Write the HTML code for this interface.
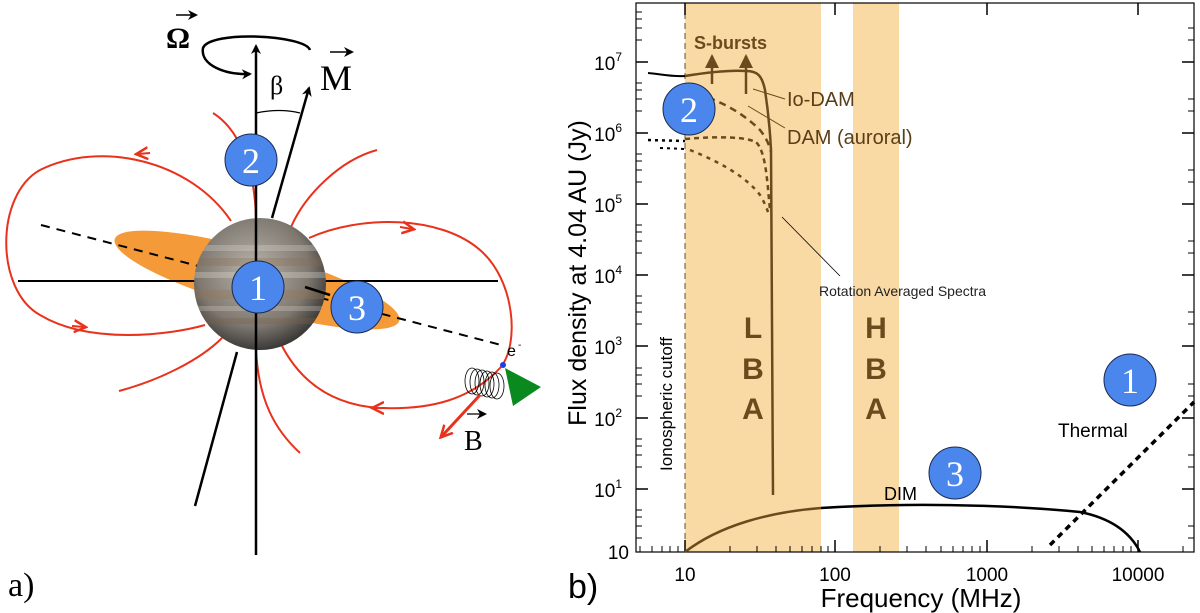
<!DOCTYPE html>
<html><head><meta charset="utf-8"><style>
html,body{margin:0;padding:0;background:#fff;}
svg{display:block;}
</style></head><body>
<svg width="1200" height="613" viewBox="0 0 1200 613" xmlns="http://www.w3.org/2000/svg">
<defs>
<radialGradient id="jg" cx="45%" cy="40%" r="60%">
<stop offset="0" stop-color="#b9b4ac"/><stop offset="0.7" stop-color="#7e7870"/><stop offset="1" stop-color="#3c3a38"/>
</radialGradient>
<clipPath id="jc"><circle cx="260" cy="284" r="66"/></clipPath>
<marker id="ab" markerWidth="10" markerHeight="10" refX="8" refY="5" orient="auto" markerUnits="userSpaceOnUse"><path d="M0,0 L10,5 L0,10 L3,5z" fill="#000"/></marker>
<marker id="ar" markerWidth="14" markerHeight="14" refX="10" refY="7" orient="auto" markerUnits="userSpaceOnUse"><path d="M0,1 L12,7 L0,13" fill="none" stroke="#e8321c" stroke-width="2.5"/></marker>
<marker id="abr" markerWidth="14" markerHeight="14" refX="12" refY="7" orient="auto" markerUnits="userSpaceOnUse"><path d="M0,0 L14,7 L0,14z" fill="#6b4a1e"/></marker>
</defs>

<!-- ===== Panel a ===== -->
<ellipse cx="257" cy="280" rx="148" ry="29" transform="rotate(16 257 280)" fill="#f59a38"/>
<line x1="18" y1="281" x2="498" y2="281" stroke="#000" stroke-width="2"/>
<line x1="41" y1="225" x2="505" y2="346" stroke="#000" stroke-width="2" stroke-dasharray="9,7"/>
<g fill="none" stroke="#e8321c" stroke-width="2">
<path d="M231,221 C190,160 100,140 40,170 C-5,195 -5,290 40,315 C90,345 170,335 205,325"/>
<path d="M309,238 C360,215 440,215 480,250 C515,280 520,345 500,368 C470,400 430,410 380,408 C330,405 300,380 282,346"/>
<path d="M213,113 C240,130 255,170 256,219"/>
<path d="M377,150 C340,160 305,195 291,227"/>
<path d="M119,391 C160,380 200,360 222,338"/>
<path d="M256,348 C258,400 275,430 300,453"/>
</g>
<path d="M150,153 L138,154" stroke="#e8321c" stroke-width="2" marker-end="url(#ar)"/>
<path d="M72,326 L84,327" stroke="#e8321c" stroke-width="2" marker-end="url(#ar)"/>
<path d="M400,227 L412,229" stroke="#e8321c" stroke-width="2" marker-end="url(#ar)"/>
<path d="M386,408 L374,408" stroke="#e8321c" stroke-width="2" marker-end="url(#ar)"/>
<circle cx="260" cy="284" r="66" fill="url(#jg)"/>
<g clip-path="url(#jc)" opacity="0.3">
<rect x="190" y="245" width="140" height="6" fill="#ddd8cf"/>
<rect x="190" y="258" width="140" height="8" fill="#8a6a4c"/>
<rect x="190" y="272" width="140" height="6" fill="#e6e0d6"/>
<rect x="190" y="290" width="140" height="9" fill="#9a7352"/>
<rect x="190" y="306" width="140" height="5" fill="#d8d2c8"/>
<rect x="190" y="318" width="140" height="6" fill="#7a6048"/>
</g>
<line x1="256" y1="555" x2="256" y2="46" stroke="#000" stroke-width="2.5" marker-end="url(#ab)"/>
<line x1="195" y1="506" x2="237" y2="352" stroke="#000" stroke-width="2.5"/>
<line x1="272" y1="218" x2="309" y2="88" stroke="#000" stroke-width="2.5" marker-end="url(#ab)"/>
<line x1="305" y1="287" x2="330" y2="295" stroke="#000" stroke-width="2.5"/>
<path d="M310,50 C305,35 210,30 203,48 C200,65 225,75 250,74" fill="none" stroke="#000" stroke-width="2.5" marker-end="url(#ab)"/>
<path d="M256,113 Q280,108 300,113" fill="none" stroke="#000" stroke-width="1.2"/>
<text x="166" y="48" font-family="Liberation Serif, serif" font-size="30" font-weight="bold">Ω</text>
<path d="M176,15 L196,15" stroke="#000" stroke-width="1.5" marker-end="url(#ab)"/>
<text x="270" y="94" font-family="Liberation Serif, serif" font-size="26">β</text>
<text x="320" y="90" font-family="Liberation Serif, serif" font-size="36">M</text>
<path d="M330,52 L352,52" stroke="#000" stroke-width="1.5" marker-end="url(#ab)"/>
<g font-family="Liberation Serif, serif" font-size="36" fill="#fff" text-anchor="middle">
<circle cx="251" cy="160" r="26" fill="#4a86ec" stroke="#1a2a50" stroke-width="1"/><text x="251" y="173">2</text>
<circle cx="258" cy="287" r="26" fill="#4a86ec" stroke="#1a2a50" stroke-width="1"/><text x="258" y="300">1</text>
<circle cx="357" cy="307" r="26" fill="#4a86ec" stroke="#1a2a50" stroke-width="1"/><text x="357" y="320">3</text>
</g>
<g fill="none" stroke="#000" stroke-width="0.8">
<ellipse cx="472" cy="381" rx="7" ry="13"/><ellipse cx="477" cy="382" rx="7" ry="13"/><ellipse cx="482" cy="383" rx="7" ry="13"/><ellipse cx="487" cy="384" rx="7" ry="13"/><ellipse cx="492" cy="385" rx="7" ry="13"/><ellipse cx="497" cy="386" rx="7" ry="13"/>
</g>
<polygon points="505,368 541,387 513,406" fill="#0a8a1e"/>
<circle cx="503" cy="365" r="3" fill="#1744e0"/>
<text x="507" y="356" font-family="Liberation Sans, sans-serif" font-size="16">e</text>
<text x="518" y="348" font-family="Liberation Sans, sans-serif" font-size="10">-</text>
<line x1="480" y1="395" x2="442" y2="436" stroke="#e8321c" stroke-width="3" marker-end="url(#ar)"/>
<text x="464" y="450" font-family="Liberation Serif, serif" font-size="28">B</text>
<path d="M467,414 L485,414" stroke="#000" stroke-width="1.3" marker-end="url(#ab)"/>
<text x="8" y="596" font-family="Liberation Serif, serif" font-size="34">a)</text>

<!-- ===== Panel b ===== -->
<rect x="685" y="3" width="136" height="549" fill="#f9d9a4"/>
<rect x="853" y="3" width="46" height="549" fill="#f9d9a4"/>
<line x1="685" y1="3" x2="685" y2="552" stroke="#6b4a1e" stroke-width="1" stroke-dasharray="6,4"/>
<rect x="636" y="3" width="558" height="549" fill="none" stroke="#000" stroke-width="1.2"/>
<g stroke="#000" stroke-width="1.5">
<path d="M636,62h12M636,133h12M636,204h12M636,275h12M636,346h12M636,418h12M636,489h12"/>
<path d="M1194,62h-12M1194,133h-12M1194,204h-12M1194,275h-12M1194,346h-12M1194,418h-12M1194,489h-12"/>
<path d="M685,552v-12M835,552v-12M987,552v-12M1138,552v-12M685,3v12M835,3v12M987,3v12M1138,3v12"/>
</g>
<g stroke="#000" stroke-width="1">
<path d="M636,40h6M636,28h6M636,19h6M636,12h6M636,111h6M636,99h6M636,90h6M636,83h6M636,182h6M636,170h6M636,161h6M636,154h6M636,253h6M636,241h6M636,232h6M636,225h6M636,324h6M636,312h6M636,303h6M636,296h6M636,396h6M636,384h6M636,375h6M636,368h6M636,467h6M636,455h6M636,446h6M636,439h6M636,538h6M636,526h6M636,517h6M636,510h6"/>
<path d="M1194,40h-6M1194,28h-6M1194,111h-6M1194,99h-6M1194,182h-6M1194,170h-6M1194,253h-6M1194,241h-6M1194,324h-6M1194,312h-6M1194,396h-6M1194,384h-6M1194,467h-6M1194,455h-6M1194,538h-6M1194,526h-6"/>
<path d="M640,552v-6M652,552v-6M662,552v-6M670,552v-6M678,552v-6M730,552v-6M757,552v-6M776,552v-6M790,552v-6M802,552v-6M812,552v-6M821,552v-6M828,552v-6M880,552v-6M907,552v-6M926,552v-6M941,552v-6M953,552v-6M963,552v-6M972,552v-6M980,552v-6M1032,552v-6M1059,552v-6M1078,552v-6M1092,552v-6M1104,552v-6M1114,552v-6M1123,552v-6M1131,552v-6M1183,552v-6"/>
</g>
<g font-family="Liberation Sans, sans-serif" font-size="19" text-anchor="end">
<text x="622" y="70">10<tspan font-size="12" dy="-9">7</tspan></text>
<text x="622" y="141">10<tspan font-size="12" dy="-9">6</tspan></text>
<text x="622" y="212">10<tspan font-size="12" dy="-9">5</tspan></text>
<text x="622" y="283">10<tspan font-size="12" dy="-9">4</tspan></text>
<text x="622" y="354">10<tspan font-size="12" dy="-9">3</tspan></text>
<text x="622" y="426">10<tspan font-size="12" dy="-9">2</tspan></text>
<text x="622" y="497">10<tspan font-size="12" dy="-9">1</tspan></text>
<text x="629" y="559">10</text>
</g>
<g font-family="Liberation Sans, sans-serif" font-size="19" text-anchor="middle">
<text x="685" y="581">10</text><text x="835" y="581">100</text><text x="987" y="581">1000</text><text x="1138" y="581">10000</text>
</g>
<text x="921" y="607" font-family="Liberation Sans, sans-serif" font-size="26" text-anchor="middle">Frequency (MHz)</text>
<text transform="translate(586,273) rotate(-90)" font-family="Liberation Sans, sans-serif" font-size="25" text-anchor="middle">Flux density at 4.04 AU (Jy)</text>
<text x="568" y="598" font-family="Liberation Sans, sans-serif" font-size="34">b)</text>
<text transform="translate(672,404) rotate(-90)" font-family="Liberation Sans, sans-serif" font-size="17" text-anchor="middle">Ionospheric cutoff</text>
<path d="M648,73 C660,74 672,77 685,76" fill="none" stroke="#000" stroke-width="2"/>
<path d="M685,76 C710,72 730,70 746,71 C758,71 762,76 765,90 C768,110 770,130 771,150 L773,495" fill="none" stroke="#6b4a1e" stroke-width="2.5"/>
<path d="M685,92 C710,95 740,110 760,130 C768,140 770,148 771,152" fill="none" stroke="#6b4a1e" stroke-width="2.5" stroke-dasharray="7,5"/>
<path d="M685,139 C720,136 745,137 756,142 C766,152 767,180 770,210" fill="none" stroke="#6b4a1e" stroke-width="2.5" stroke-dasharray="5,4"/>
<path d="M690,150 C715,160 745,175 760,195 C766,205 768,212 769,215" fill="none" stroke="#6b4a1e" stroke-width="2.5" stroke-dasharray="4,5"/>
<path d="M648,140 L685,141" fill="none" stroke="#000" stroke-width="2.5" stroke-dasharray="3,4"/>
<path d="M660,148 L685,149" fill="none" stroke="#000" stroke-width="2" stroke-dasharray="3,4"/>
<line x1="712" y1="84" x2="712" y2="56" stroke="#6b4a1e" stroke-width="2.5" marker-end="url(#abr)"/>
<line x1="746" y1="94" x2="746" y2="56" stroke="#6b4a1e" stroke-width="2.5" marker-end="url(#abr)"/>
<text x="694" y="49" font-family="Liberation Sans, sans-serif" font-size="18" font-weight="bold" fill="#6b4a1e">S-bursts</text>
<path d="M753,89 L785,99" stroke="#6b4a1e" stroke-width="1"/>
<path d="M748,106 L785,128" stroke="#6b4a1e" stroke-width="1"/>
<text x="787" y="106" font-family="Liberation Sans, sans-serif" font-size="20" fill="#5a3e18">Io-DAM</text>
<text x="787" y="144" font-family="Liberation Sans, sans-serif" font-size="20" fill="#5a3e18">DAM (auroral)</text>
<path d="M782,217 L840,276" stroke="#000" stroke-width="0.8"/>
<text x="819" y="296" font-family="Liberation Sans, sans-serif" font-size="14" fill="#222">Rotation Averaged Spectra</text>
<g font-family="Liberation Sans, sans-serif" font-size="30" font-weight="bold" fill="#6b4a1e" text-anchor="middle">
<text x="753" y="338">L</text><text x="753" y="379">B</text><text x="753" y="419">A</text>
<text x="876" y="338">H</text><text x="876" y="379">B</text><text x="876" y="419">A</text>
</g>
<path d="M685,552 C720,525 770,512 821,508" fill="none" stroke="#6b4a1e" stroke-width="2.5"/>
<path d="M821,508 C900,503 1000,504 1080,512 C1110,518 1130,532 1140,552" fill="none" stroke="#000" stroke-width="2.5"/>
<line x1="1050" y1="545" x2="1194" y2="402" stroke="#000" stroke-width="3.5" stroke-dasharray="6,5"/>
<text x="884" y="500" font-family="Liberation Sans, sans-serif" font-size="18">DIM</text>
<text x="1058" y="437" font-family="Liberation Sans, sans-serif" font-size="19">Thermal</text>
<g font-family="Liberation Serif, serif" font-size="36" fill="#fff" text-anchor="middle">
<circle cx="689" cy="109" r="26" fill="#4a86ec" stroke="#1a2a50" stroke-width="1"/><text x="689" y="122">2</text>
<circle cx="955" cy="473" r="26" fill="#4a86ec" stroke="#1a2a50" stroke-width="1"/><text x="955" y="486">3</text>
<circle cx="1130" cy="380" r="26" fill="#4a86ec" stroke="#1a2a50" stroke-width="1"/><text x="1130" y="393">1</text>
</g>
</svg>
</body></html>
